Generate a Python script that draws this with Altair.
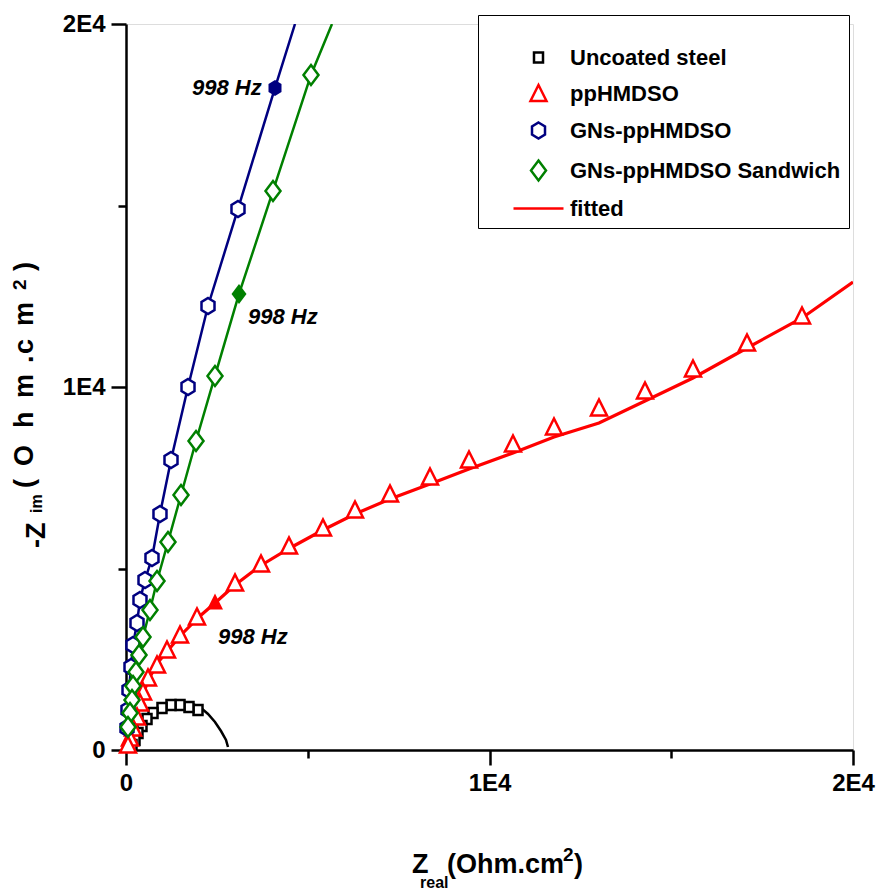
import altair as alt
import pandas as pd

FONT = "Liberation Sans, Arial, Helvetica, sans-serif"

# ---------------- data ----------------
series_names = ["Uncoated steel", "ppHMDSO", "GNs-ppHMDSO", "GNs-ppHMDSO Sandwich", "fitted"]
series_colors = ["#000000", "#ff0000", "#000080", "#008000", "#ff0000"]

steel_x = [1981, 1733, 1486, 1238, 990, 743, 578, 440, 330, 248, 165]
steel_y = [1102, 1185, 1240, 1240, 1157, 1019, 854, 661, 468, 276, 138]

pp_x = [18597, 17084, 15598, 14278, 13012, 11774, 10646, 9436, 8363, 7263, 6300, 5419,
        4484, 3714, 2999, 1953, 1486, 1128, 853, 605, 468, 385, 303, 193, 110, 55]
pp_y = [11957, 11213, 10497, 9890, 9422, 8899, 8430, 7990, 7521, 7053, 6612, 6116,
        5620, 5124, 4601, 3664, 3168, 2755, 2342, 1984, 1598, 1295, 909, 606, 330, 138]

gn_x = [3081, 2256, 1706, 1238, 935, 715, 523, 385, 303, 193, 138, 83, 55, 28]
gn_y = [14905, 12232, 10001, 7990, 6502, 5290, 4684, 4133, 3499, 2893, 2287, 1653, 1102, 606]

sw_x = [5089, 4044, 2448, 1926, 1513, 1155, 853, 660, 468, 358, 275, 193, 165, 110, 55]
sw_y = [18596, 15400, 10304, 8513, 7025, 5730, 4656, 3857, 3113, 2617, 2149, 1763, 1378, 1019, 634]

# 998 Hz points (filled markers)
hz_series = ["ppHMDSO", "GNs-ppHMDSO", "GNs-ppHMDSO Sandwich"]
hz_x = [2448, 4099, 3109]
hz_y = [4077, 18238, 12563]

# 998 Hz labels
lab_x = [1816, 3356, 2531]
lab_y = [18045, 11736, 2920]
lab_text = ["998 Hz", "998 Hz", "998 Hz"]

# fitted curves
fit_steel_x = [0, 165, 385, 660, 935, 1210, 1486, 1761, 2036, 2256, 2448, 2613, 2751, 2806]
fit_steel_y = [0, 165, 551, 909, 1130, 1268, 1322, 1295, 1185, 992, 771, 523, 276, 83]

fit_pp_x = [0, 110, 248, 385, 605, 935, 1486, 2036, 2448, 2999, 3686, 4512, 5419, 6300,
            7263, 8363, 9436, 10646, 11774, 13012, 14278, 15598, 17084, 18597, 20000]
fit_pp_y = [0, 276, 689, 1240, 1929, 2480, 3141, 3692, 4050, 4546, 5069, 5565, 6061, 6502,
            6915, 7329, 7742, 8182, 8623, 9009, 9615, 10249, 11075, 11902, 12893]

fit_gn_x = [0, 28, 55, 83, 138, 193, 303, 385, 523, 715, 935, 1238, 1706, 2256, 3081, 4099, 4649]
fit_gn_y = [0, 606, 1102, 1653, 2287, 2893, 3499, 4133, 4684, 5290, 6502, 7990, 10001, 12232,
            14905, 18238, 20000]

fit_sw_x = [0, 55, 110, 165, 193, 275, 358, 468, 660, 853, 1155, 1513, 1926, 2448, 3109,
            4044, 5089, 5667]
fit_sw_y = [0, 634, 1019, 1378, 1763, 2149, 2617, 3113, 3857, 4656, 5730, 7025, 8513, 10304,
            12563, 15400, 18596, 20000]

# ---------------- marker shapes ----------------
SQ = "M-0.45,-0.5L0.45,-0.5L0.45,0.5L-0.45,0.5Z"
TRI = "M0,-0.85L0.8,0.75L-0.8,0.75Z"
HEX = "M0,-0.8L0.65,-0.4L0.65,0.4L0,0.8L-0.65,0.4L-0.65,-0.4Z"
DIA = "M0,-1L0.75,0L0,1L-0.75,0Z"
LINE = "M-2.5,0L2.5,0"
series_shapes = [SQ, TRI, HEX, DIA, LINE]

# ---------------- tables ----------------
rows = []
for name, xs, ys in [("Uncoated steel", steel_x, steel_y), ("ppHMDSO", pp_x, pp_y),
                     ("GNs-ppHMDSO", gn_x, gn_y), ("GNs-ppHMDSO Sandwich", sw_x, sw_y)]:
    for a, b in zip(xs, ys):
        rows.append({"series": name, "x": a, "y": b})
pts_df = pd.DataFrame(rows)

color_of = dict(zip(series_names, series_colors))
shape_of = dict(zip(series_names, series_shapes))
hz_df = pd.DataFrame({"series": hz_series, "x": hz_x, "y": hz_y,
                      "col": [color_of[s] for s in hz_series],
                      "shp": [shape_of[s] for s in hz_series]})

frows = []
for name, xs, ys, w in [("Uncoated steel", fit_steel_x, fit_steel_y, 2.5),
                        ("ppHMDSO", fit_pp_x, fit_pp_y, 3.2),
                        ("GNs-ppHMDSO", fit_gn_x, fit_gn_y, 2.5),
                        ("GNs-ppHMDSO Sandwich", fit_sw_x, fit_sw_y, 2.5)]:
    for i, (a, b) in enumerate(zip(xs, ys)):
        frows.append({"series": name, "x": a, "y": b, "i": i, "col": color_of[name], "w": w})
fit_df = pd.DataFrame(frows)

lab_df = pd.DataFrame({"x": lab_x, "y": lab_y, "t": lab_text})

# ---------------- scales / axes ----------------
xs_ = alt.Scale(domain=[0, 20000], nice=False, zero=False)
ys_ = alt.Scale(domain=[0, 20000], nice=False, zero=False)

lab_expr = "datum.value == 0 ? '0' : datum.value == 10000 ? '1E4' : datum.value == 20000 ? '2E4' : ''"
tick_sz = {"condition": {"test": "datum.value % 10000 === 0", "value": 15}, "value": 8}

def make_axis():
    return alt.Axis(values=[0, 5000, 10000, 15000, 20000], labelExpr=lab_expr, title=None,
                    grid=False, domainColor="black", domainWidth=2.5, tickColor="black",
                    tickWidth=2.5, tickSize=tick_sz, labelFont=FONT, labelFontSize=24,
                    labelFontWeight="bold", labelColor="black", labelPadding=6,
                    labelFlush=False, labelOverlap=False)

X = alt.X("x:Q", scale=xs_, axis=make_axis())
Y = alt.Y("y:Q", scale=ys_, axis=make_axis())

legend = alt.Legend(orient="none", legendX=352, legendY=-9, title=" ", titleFontSize=14,
                    titlePadding=9, symbolSize=400, symbolStrokeWidth=2.5,
                    labelFont=FONT, labelFontSize=22, labelFontWeight="bold", labelColor="black",
                    rowPadding=11, padding=8, strokeColor="black", fillColor="white",
                    symbolOffset=41, labelOffset=20, labelLimit=400)

lines = alt.Chart(fit_df).mark_line(clip=True).encode(
    x=X, y=Y,
    color=alt.Color("col:N", scale=None),
    size=alt.Size("w:Q", scale=None),
    detail="series:N",
    order="i:Q",
)

pts = alt.Chart(pts_df).mark_point(filled=False, fill="white", size=400, strokeWidth=2.5,
                                   opacity=1).encode(
    x=X, y=Y,
    color=alt.Color("series:N", scale=alt.Scale(domain=series_names, range=series_colors),
                    legend=legend),
    shape=alt.Shape("series:N", scale=alt.Scale(domain=series_names, range=series_shapes),
                    legend=legend),
)

hz = alt.Chart(hz_df).mark_point(filled=True, size=400, opacity=1).encode(
    x=X, y=Y,
    color=alt.Color("col:N", scale=None),
    shape=alt.Shape("shp:N", scale=None),
)

labels = alt.Chart(lab_df).mark_text(font=FONT, fontSize=22, fontWeight="bold",
                                     fontStyle="italic", align="left",
                                     baseline="alphabetic", color="black").encode(
    x=X, y=Y, text="t:N")

one = alt.Data(values=[{"a": 1}])

def txt(s, x, y, size, angle=0):
    return alt.Chart(one).mark_text(text=s, font=FONT, fontSize=size, fontWeight="bold",
                                    align="left", baseline="alphabetic", angle=angle,
                                    color="black").encode(x=alt.value(x), y=alt.value(y))

titles = [
    # x title: Z_real(Ohm.cm^2)
    txt("Z", 286, 849, 27),
    txt("real", 294, 864, 16),
    txt("(Ohm.cm", 321, 849, 27),
    txt("2", 437, 837, 19),
    txt(")", 448, 849, 27),
    # y title: -Z_im(O h m .c m ^2)
    txt("-Z", -81, 524, 27, 270),
    txt("im", -84, 489, 16, 270),
    txt("(", -93, 464, 27, 270),
    txt("O", -93, 442, 27, 270),
    txt("h", -93, 404, 27, 270),
    txt("m", -93, 374, 27, 270),
    txt(".", -93, 339, 27, 270),
    txt("c", -93, 330, 27, 270),
    txt("m", -93, 302, 27, 270),
    txt("2", -100, 266, 19, 270),
    txt(")", -93, 247, 27, 270),
]

chart = alt.layer(lines, pts, hz, labels, *titles).properties(
    width=727, height=726,
    autosize=alt.AutoSizeParams(type="none"),
    padding={"left": 126, "top": 24, "right": 24, "bottom": 143},
).configure_view(stroke="black", strokeWidth=2).configure(background="white")

chart.save("out.html", embed_options={"renderer": "svg", "actions": False})
